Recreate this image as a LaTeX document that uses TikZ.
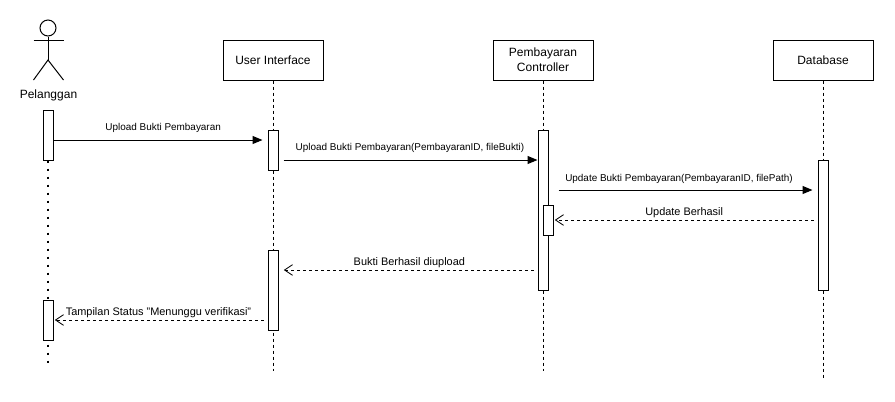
\documentclass[tikz,border=0pt]{standalone}
\usepackage{fontspec}
\setmainfont{Liberation Sans}
\usetikzlibrary{arrows.meta}
\begin{document}
\begin{tikzpicture}[x=0.75pt, y=-0.75pt, line width=0.75pt,
	party/.style={draw, fill=white, minimum width=75pt, minimum height=30pt, align=center, inner sep=0pt, font=\fontsize{9}{11}\selectfont},
	bar/.style={draw, fill=white, minimum width=7.5pt, inner sep=0pt},
	life/.style={dash pattern=on 2.25pt off 2.25pt},
	dots/.style={line width=1.6pt, dash pattern=on 1.6pt off 4.4pt},
	call/.style={-{Triangle[length=7.5pt, width=6pt]}},
	reply/.style={dash pattern=on 2.25pt off 2.25pt, -{Straight Barb[length=6pt, width=8pt, line width=0.6pt]}},
	small/.style={font=\fontsize{7.45}{9}\selectfont, inner sep=0pt},
	big/.style={font=\fontsize{8.2}{10}\selectfont, inner sep=0pt}]
	\useasboundingbox (0,0) rectangle (895,401);
	% actor
	\coordinate (hip) at (48,60);
	\coordinate (armL) at (33.5,40);
	\coordinate (armR) at (63.5,40);
	\coordinate (legL) at (33.5,80);
	\coordinate (legR) at (63.5,80);
	\node[draw, circle, minimum size=12pt, inner sep=0pt] (head) at (48,28) {};
	\draw (head) -- (hip);
	\draw (armL) -- (armR);
	\draw (legL) -- (hip) -- (legR);
	\node[font=\fontsize{9}{11}\selectfont, inner sep=0pt] (pelanggan) at (48.5,95) {Pelanggan};
	% boxes
	\node[party] (ui) at (273,60) {User Interface};
	\node[party] (ctrl) at (543,60) {Pembayaran\\Controller};
	\node[party] (db) at (823,60) {Database};
	% lifelines
	\coordinate (pelEnd) at (48,367);
	\coordinate (uiEnd) at (273,371);
	\coordinate (ctrlEnd) at (543,371);
	\coordinate (dbEnd) at (823,378);
	\node[bar, minimum height=37.5pt] (pel1) at (48,135) {};
	\draw[dots] (pel1.south) -- (pelEnd);
	\draw[life] (ui) -- (uiEnd);
	\draw[life] (ctrl) -- (ctrlEnd);
	\draw[life] (db) -- (dbEnd);
	% activations
	\node[bar, minimum height=30pt] (pel2) at (48,320) {};
	\node[bar, minimum height=30pt] (ui1) at (273,150) {};
	\node[bar, minimum height=60pt] (ui2) at (273,290) {};
	\node[bar, minimum height=120pt] (ctrl1) at (543,210) {};
	\node[bar, minimum height=22.5pt] (ctrl2) at (548,220) {};
	\node[bar, minimum height=97.5pt] (db1) at (823,225) {};
	% messages
	\draw[call, shorten >=3.75pt] (pel1.east |- 0,140) -- node[small, above=5pt, xshift=2pt] {Upload Bukti Pembayaran} (ui1.west |- 0,140);
	\draw[call, shorten <=3.75pt] (ui1.east |- 0,160) -- node[small, above=5pt, xshift=1.5pt] {Upload Bukti Pembayaran(PembayaranID, fileBukti)} (ctrl1.west |- 0,160);
	\draw[call, shorten <=7.5pt, shorten >=3.75pt] (ctrl1.east |- 0,190) -- node[small, above=4.5pt, xshift=-3pt] {Update Bukti Pembayaran(PembayaranID, filePath)} (db1.west |- 0,190);
	\draw[reply, shorten <=3pt, shorten >=1pt] (db1.west |- 0,220) -- node[big, above=1.5pt, xshift=-1pt] {Update Berhasil} (ctrl2.east |- 0,220);
	\draw[reply, shorten <=3pt, shorten >=4pt] (ctrl1.west |- 0,270) -- node[big, above=1.5pt, xshift=1pt] {Bukti Berhasil diupload} (ui2.east |- 0,270);
	\draw[reply, shorten <=3pt, shorten >=1pt] (ui2.west |- 0,320) -- node[big, above=1.5pt, xshift=-1.5pt] {Tampilan Status "Menunggu verifikasi"} (pel2.east |- 0,320);
\end{tikzpicture}
\end{document}
